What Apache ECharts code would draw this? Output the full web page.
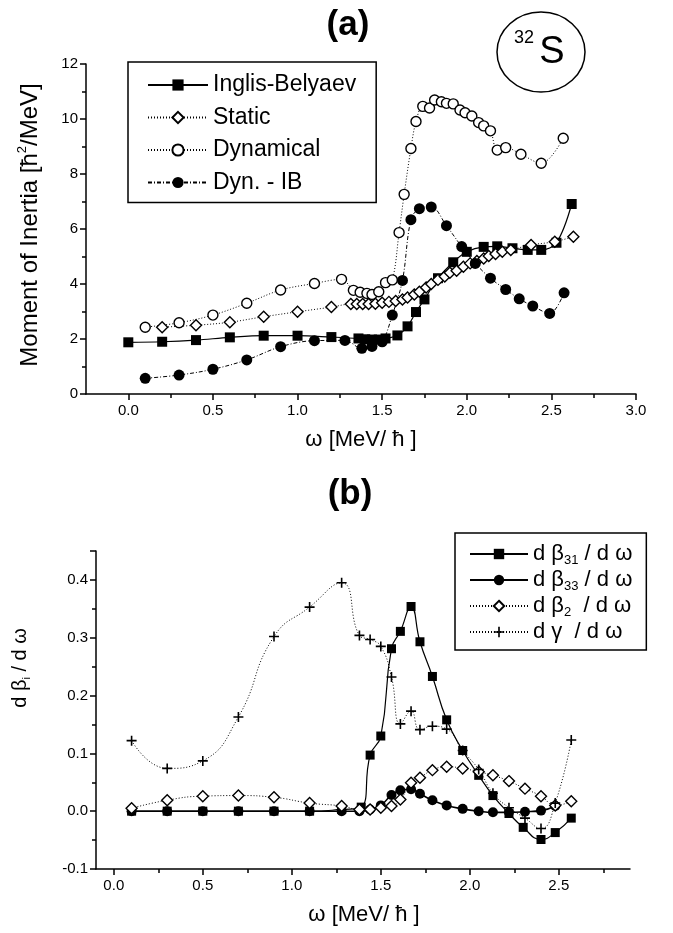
<!DOCTYPE html>
<html>
<head>
<meta charset="utf-8">
<script src="https://cdn.jsdelivr.net/npm/echarts@6/dist/echarts.min.js"></script>
<style>
html, body { margin: 0; padding: 0; background: #fff; }
#main { width: 673px; height: 933px; }
</style>
</head>
<body>
<div id="main"></div>
<script>
// ---- panel (a): moment of inertia ----
var ibX = [0, 0.2, 0.4, 0.6, 0.8, 1.0, 1.2, 1.36, 1.40, 1.44, 1.48, 1.52, 1.59, 1.65, 1.70, 1.75, 1.83, 1.92, 2.00, 2.10, 2.18, 2.27, 2.36, 2.44, 2.53, 2.62];
var ibY = [1.88, 1.90, 1.96, 2.06, 2.12, 2.12, 2.07, 2.02, 1.99, 1.98, 1.98, 2.02, 2.13, 2.46, 2.98, 3.44, 4.21, 4.79, 5.17, 5.35, 5.37, 5.30, 5.24, 5.24, 5.50, 6.91];

var staticX = [0.2, 0.4, 0.6, 0.8, 1.0, 1.2, 1.315, 1.35, 1.385, 1.42, 1.46, 1.50, 1.54, 1.58, 1.62, 1.65, 1.69, 1.72, 1.76, 1.79, 1.83, 1.87, 1.90, 1.94, 1.98, 2.02, 2.06, 2.10, 2.13, 2.17, 2.21, 2.26, 2.38, 2.52, 2.63];
var staticY = [2.43, 2.50, 2.61, 2.81, 2.99, 3.16, 3.27, 3.27, 3.27, 3.27, 3.28, 3.32, 3.35, 3.38, 3.44, 3.51, 3.62, 3.72, 3.87, 4.00, 4.15, 4.27, 4.41, 4.48, 4.63, 4.75, 4.84, 4.93, 5.02, 5.09, 5.17, 5.24, 5.42, 5.54, 5.72];

var dynX = [0.1, 0.3, 0.5, 0.7, 0.9, 1.1, 1.26, 1.33, 1.37, 1.41, 1.44, 1.48, 1.52, 1.56, 1.60, 1.63, 1.67, 1.70, 1.74, 1.78, 1.81, 1.85, 1.88, 1.92, 1.96, 1.99, 2.03, 2.07, 2.10, 2.14, 2.18, 2.23, 2.32, 2.44, 2.57];
var dynY = [2.43, 2.59, 2.87, 3.30, 3.78, 4.02, 4.17, 3.77, 3.70, 3.66, 3.62, 3.72, 4.05, 4.15, 5.87, 7.26, 8.93, 9.91, 10.46, 10.40, 10.69, 10.63, 10.57, 10.55, 10.33, 10.23, 10.11, 9.87, 9.75, 9.57, 8.87, 8.96, 8.72, 8.39, 9.30];

var diffX = [0.1, 0.3, 0.5, 0.7, 0.9, 1.1, 1.28, 1.38, 1.44, 1.50, 1.56, 1.62, 1.67, 1.72, 1.79, 1.88, 1.97, 2.05, 2.14, 2.23, 2.31, 2.39, 2.49, 2.575];
var diffY = [0.57, 0.69, 0.90, 1.24, 1.72, 1.94, 1.95, 1.66, 1.73, 1.90, 2.87, 4.13, 6.34, 6.74, 6.80, 6.12, 5.36, 4.75, 4.21, 3.80, 3.46, 3.20, 2.93, 3.68];

// ---- panel (b): derivatives ----
var b31X = [0.1, 0.3, 0.5, 0.7, 0.9, 1.1, 1.28, 1.39, 1.44, 1.50, 1.56, 1.61, 1.67, 1.72, 1.79, 1.87, 1.96, 2.05, 2.13, 2.22, 2.30, 2.40, 2.48, 2.57];
var b31Y = [0, 0, 0, 0, 0, 0, 0.003, 0.007, 0.097, 0.130, 0.281, 0.311, 0.354, 0.293, 0.233, 0.158, 0.105, 0.062, 0.027, -0.004, -0.028, -0.049, -0.037, -0.012];

var b33X = [0.1, 0.3, 0.5, 0.7, 0.9, 1.1, 1.28, 1.38, 1.44, 1.50, 1.56, 1.61, 1.67, 1.72, 1.79, 1.87, 1.96, 2.05, 2.13, 2.22, 2.31, 2.40, 2.48];
var b33Y = [0, 0, 0, 0, 0, 0, 0, 0.0, 0.003, 0.010, 0.028, 0.036, 0.038, 0.030, 0.019, 0.010, 0.004, 0.0, -0.002, -0.002, -0.001, 0.001, 0.009];

var b2X = [0.1, 0.3, 0.5, 0.7, 0.9, 1.1, 1.28, 1.38, 1.44, 1.50, 1.56, 1.61, 1.67, 1.72, 1.79, 1.87, 1.96, 2.05, 2.13, 2.22, 2.31, 2.40, 2.48, 2.57];
var b2Y = [0.005, 0.019, 0.026, 0.027, 0.024, 0.014, 0.009, 0.003, 0.003, 0.006, 0.009, 0.020, 0.049, 0.058, 0.071, 0.077, 0.074, 0.068, 0.062, 0.052, 0.039, 0.026, 0.010, 0.017];

var gX = [0.1, 0.3, 0.5, 0.7, 0.9, 1.1, 1.28, 1.38, 1.44, 1.50, 1.56, 1.61, 1.67, 1.72, 1.79, 1.87, 1.96, 2.05, 2.13, 2.22, 2.31, 2.40, 2.48, 2.57];
var gY = [0.122, 0.074, 0.087, 0.163, 0.302, 0.353, 0.395, 0.304, 0.297, 0.285, 0.232, 0.151, 0.173, 0.141, 0.147, 0.142, 0.105, 0.072, 0.031, 0.006, -0.012, -0.030, 0.014, 0.123];

// ---- tick values ----
var topXLabels = [0, 0.5, 1.0, 1.5, 2.0, 2.5, 3.0];
var topXMinor = [0.25, 0.75, 1.25, 1.75, 2.25, 2.75];
var botXLabels = [0, 0.5, 1.0, 1.5, 2.0, 2.5];
var botXMinor = [0.25, 0.75, 1.25, 1.75, 2.25, 2.75];

var FONT = '"Liberation Sans", Arial, Helvetica, sans-serif';
var plusPath = 'path://M4.2,0L5.8,0L5.8,4.2L10,4.2L10,5.8L5.8,5.8L5.8,10L4.2,10L4.2,5.8L0,5.8L0,4.2L4.2,4.2Z';

function pairs(xs, ys) {
    var out = [];
    for (var i = 0; i < xs.length; i++) {
        out.push([xs[i], ys[i]]);
    }
    return out;
}

function makeSeries(name, xs, ys, xi, yi, symbol, size, fill, lineType, lw, smooth) {
    return {
        name: name,
        type: 'line',
        xAxisIndex: xi,
        yAxisIndex: yi,
        data: pairs(xs, ys),
        smooth: smooth,
        symbol: symbol,
        symbolSize: size,
        showAllSymbol: true,
        lineStyle: { color: '#000', width: lw, type: lineType },
        itemStyle: { color: fill, borderColor: '#000', borderWidth: fill === '#fff' ? 1.4 : 0 }
    };
}

function xAxisPair(grid, min, max, labels, minor) {
    return [{
        type: 'value', gridIndex: grid, position: 'bottom', min: min, max: max,
        axisLine: { onZero: false, lineStyle: { color: '#000', width: 1.5 } },
        axisTick: { show: true, customValues: labels, length: 6, lineStyle: { color: '#000', width: 1.5 } },
        axisLabel: { customValues: labels, color: '#000', fontSize: 15, fontFamily: FONT, margin: 9,
            formatter: function (v) { return v.toFixed(1); } },
        splitLine: { show: false }
    }, {
        type: 'value', gridIndex: grid, position: 'bottom', offset: 0, min: min, max: max,
        axisLine: { show: false, onZero: false },
        axisTick: { show: true, customValues: minor, length: 4, lineStyle: { color: '#000', width: 1.5 } },
        axisLabel: { show: false },
        splitLine: { show: false }
    }];
}

var xAxes = xAxisPair(0, -0.25, 3.0, topXLabels, topXMinor).concat(xAxisPair(1, -0.1, 2.9, botXLabels, botXMinor));

var chart = echarts.init(document.getElementById('main'));

chart.setOption({
    backgroundColor: '#fff',
    animation: false,
    grid: [
        { left: 86, right: 37, top: 64, bottom: 539 },
        { left: 96, right: 43, top: 551, bottom: 64 }
    ],
    xAxis: xAxes,
    yAxis: [{
        type: 'value', gridIndex: 0, min: 0, max: 12, interval: 2,
        axisLine: { onZero: false, lineStyle: { color: '#000', width: 1.5 } },
        axisTick: { length: 6, lineStyle: { color: '#000', width: 1.5 } },
        minorTick: { show: true, splitNumber: 2, length: 4, lineStyle: { color: '#000', width: 1.5 } },
        axisLabel: { color: '#000', fontSize: 15, fontFamily: FONT, margin: 8 },
        splitLine: { show: false }
    }, {
        type: 'value', gridIndex: 1, min: -0.1, max: 0.45, interval: 0.1,
        axisLine: { onZero: false, lineStyle: { color: '#000', width: 1.5 } },
        axisTick: { length: 6, lineStyle: { color: '#000', width: 1.5 } },
        minorTick: { show: true, splitNumber: 2, length: 4, lineStyle: { color: '#000', width: 1.5 } },
        axisLabel: { color: '#000', fontSize: 15, fontFamily: FONT, margin: 8, showMaxLabel: false,
            formatter: function (v) { return v.toFixed(1); } },
        splitLine: { show: false }
    }],
    legend: [{
        data: ['Inglis-Belyaev', 'Static', 'Dynamical', 'Dyn. - IB'],
        orient: 'vertical', left: 128, top: 62,
        padding: [7, 20, 4, 19], itemGap: 0.5, itemWidth: 60, itemHeight: 14,
        borderColor: '#000', borderWidth: 1.5, backgroundColor: '#fff',
        selectedMode: false,
        textStyle: { fontSize: 23, fontFamily: FONT, color: '#000', lineHeight: 32 }
    }, {
        data: ['dβ31', 'dβ33', 'dβ2', 'dγ'],
        orient: 'vertical', left: 455, top: 533,
        padding: [8, 14, 5, 14], itemGap: 0, itemWidth: 58, itemHeight: 13,
        borderColor: '#000', borderWidth: 1.5, backgroundColor: '#fff',
        selectedMode: false,
        formatter: function (name) {
            if (name === 'dβ31') return '{n|d β}{s|31}{n| / d ω}';
            if (name === 'dβ33') return '{n|d β}{s|33}{n| / d ω}';
            if (name === 'dβ2') return '{n|d β}{s|2}{n|  / d ω}';
            return '{n|d γ  / d ω}';
        },
        textStyle: {
            fontSize: 22, fontFamily: FONT, color: '#000', lineHeight: 34,
            rich: {
                n: { fontSize: 22, fontFamily: FONT, color: '#000', lineHeight: 26, verticalAlign: 'middle' },
                s: { fontSize: 13, fontFamily: FONT, color: '#000', lineHeight: 26, verticalAlign: 'bottom' }
            }
        }
    }],
    graphic: [
        { type: 'text', x: 348, y: 25, style: { text: '(a)', fontSize: 35, fontWeight: 'bold', fontFamily: FONT, fill: '#000', align: 'center', verticalAlign: 'middle' } },
        { type: 'text', x: 350, y: 494, style: { text: '(b)', fontSize: 35, fontWeight: 'bold', fontFamily: FONT, fill: '#000', align: 'center', verticalAlign: 'middle' } },
        { type: 'ellipse', shape: { cx: 541, cy: 52, rx: 44, ry: 40 }, style: { fill: 'none', stroke: '#000', lineWidth: 1.5 } },
        { type: 'text', x: 524, y: 38, style: { text: '32', fontSize: 18, fontFamily: FONT, fill: '#000', align: 'center', verticalAlign: 'middle' } },
        { type: 'text', x: 552, y: 53, style: { text: 'S', fontSize: 38, fontFamily: FONT, fill: '#000', align: 'center', verticalAlign: 'middle' } },
        { type: 'text', x: 30, y: 225, rotation: Math.PI / 2,
          style: { text: '{a|Moment of Inertia [ħ}{s|2}{a|/MeV]}', align: 'center', verticalAlign: 'middle',
            rich: {
                a: { fontSize: 24, fontFamily: FONT, fill: '#000', lineHeight: 28, verticalAlign: 'middle' },
                s: { fontSize: 13, fontFamily: FONT, fill: '#000', lineHeight: 28, verticalAlign: 'top' }
            } } },
        { type: 'text', x: 20, y: 668, rotation: Math.PI / 2,
          style: { text: '{a|d β}{s|i}{a| / d ω}', align: 'center', verticalAlign: 'middle',
            rich: {
                a: { fontSize: 20, fontFamily: FONT, fill: '#000', lineHeight: 24, verticalAlign: 'middle' },
                s: { fontSize: 11, fontFamily: FONT, fill: '#000', lineHeight: 24, verticalAlign: 'bottom' }
            } } },
        { type: 'text', x: 361, y: 440, style: { text: 'ω [MeV/ ħ ]', fontSize: 22, fontFamily: FONT, fill: '#000', align: 'center', verticalAlign: 'middle' } },
        { type: 'text', x: 364, y: 915, style: { text: 'ω [MeV/ ħ ]', fontSize: 22, fontFamily: FONT, fill: '#000', align: 'center', verticalAlign: 'middle' } }
    ],
    series: [
        makeSeries('Inglis-Belyaev', ibX, ibY, 0, 0, 'rect', 10, '#000', 'solid', 1.2, 0.35),
        makeSeries('Static', staticX, staticY, 0, 0, 'diamond', 11, '#fff', [1, 2], 1, 0.35),
        makeSeries('Dynamical', dynX, dynY, 0, 0, 'circle', 10, '#fff', [1, 2], 1, 0.35),
        makeSeries('Dyn. - IB', diffX, diffY, 0, 0, 'circle', 11, '#000', [4, 2, 1, 2], 1, 0.35),
        makeSeries('dβ31', b31X, b31Y, 2, 1, 'rect', 9, '#000', 'solid', 1.2, 0.5),
        makeSeries('dβ33', b33X, b33Y, 2, 1, 'circle', 10, '#000', 'solid', 1.6, 0.5),
        makeSeries('dβ2', b2X, b2Y, 2, 1, 'diamond', 11, '#fff', [1, 2], 1, 0.5),
        makeSeries('dγ', gX, gY, 2, 1, plusPath, 10, '#000', [1, 2], 1, 0.5)
    ]
});
</script>
</body>
</html>
